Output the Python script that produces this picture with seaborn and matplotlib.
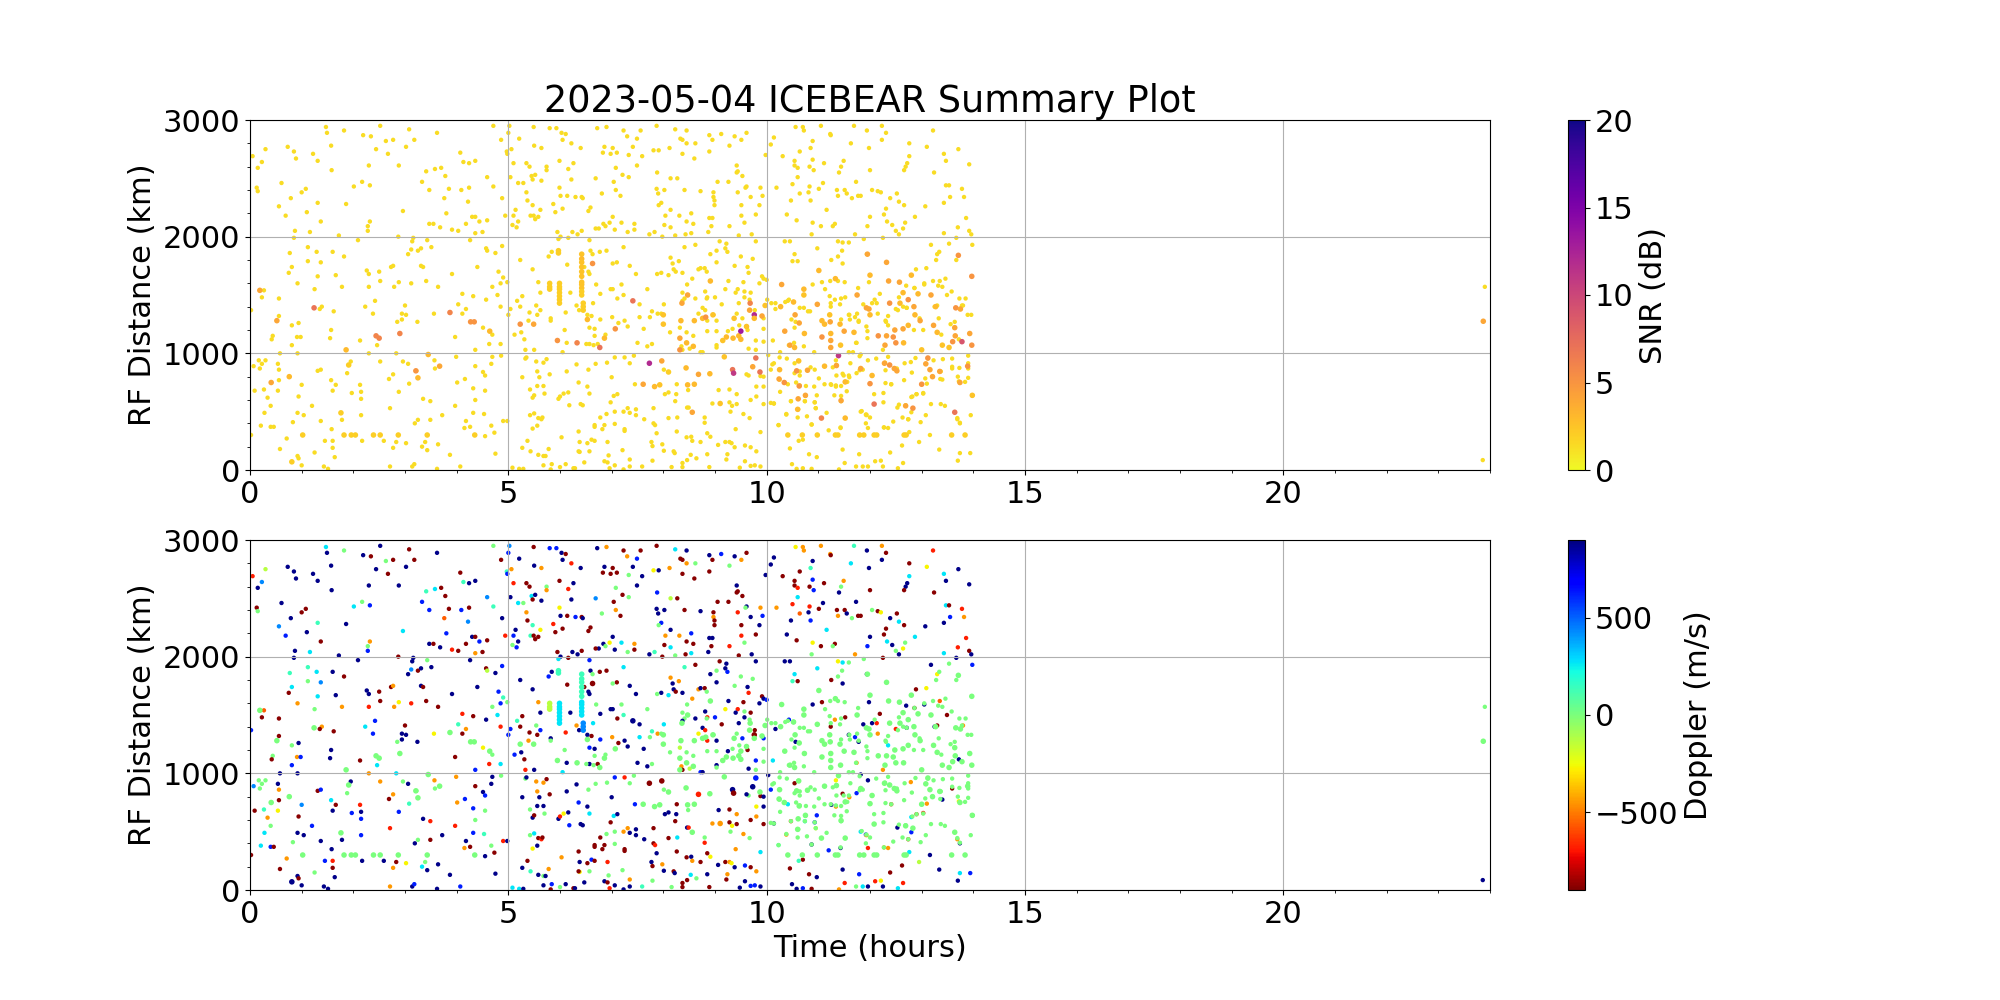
#!/usr/bin/env python3
"""ICEBEAR daily summary: SNR and Doppler of echoes against time and RF distance."""

import matplotlib
import matplotlib.pyplot as plt
import pandas as pd
import seaborn as sns
from matplotlib.cm import ScalarMappable
from matplotlib.colors import Normalize
from matplotlib.ticker import AutoMinorLocator

matplotlib.use("Agg")

# Doppler levels (m/s)
N, D = 880, -880
B, A, C, T, G = 620, 430, 270, 140, 0
L, Y, O, H, R = -130, -270, -450, -560, -680

WEAK_SNR = 1.4
TITLE = "2023-05-04 ICEBEAR Summary Plot"

# ─── Weak echoes, 0-5 h ─────────────────────────────────────────────────────
EARLY_TIME = [
    .05, .30, .23, .15, .13, .15, .61, .73, .85, .89, 1.22, 1.31, 1.47, 1.49, 1.82, 1.57, 1.58, 2.19, 2.34, 2.52,
    2.44, 2.63, 2.77, 2.67, 3.02, 3.08, 3.18, 2.88, 2.30, 3.62, 4.07, 4.13, 4.24, 4.36, 4.71, 5.0, 4.86, 4.97, 3.41, 3.58,
    3.70, 3.78, 3.33, 3.47, 3.85, 4.09, 4.24, 4.59, 4.71, 4.88, 2.01, 2.17, 2.32, 1.00, 1.08, .79, .56, .69, 1.10, 1.31,
    1.86, 1.37, .87, 1.16, 1.72, 2.28, 2.32, 2.28, 2.96, 3.47, 3.55, 3.68, 3.91, 4.03, 4.18, 4.30, 4.36, 4.44, 4.59, 4.36,
    4.50, 3.76, 3.80, 4.22, 4.94,
    .85, 1.12, 1.29, 1.60, .77, 1.82, 1.12, 1.37, .81, .75, 1.31, 1.66, .92, 1.25, 1.78, .23, .56, .27, .02, 1.39,
    1.35, 1.62, .56, .94, .81, .44, .42, .91, .98, .81, .58, .92, 1.57, 1.55, 2.13, 2.46, 2.30, 2.83, 2.26, 2.30,
    2.50, 2.52, 2.30, 2.42, 2.23, 2.38, 2.73, 2.77, 2.88, 2.79, 3.12, 3.41, 3.64, 3.00, 2.94, 3.02, 2.94, 2.85, 3.24, 3.56,
    3.06, 3.12, 3.25, 3.31, 3.14, 3.16, 2.87, 2.09, 3.43, 3.51, 3.31, 3.35, 3.91, 4.40, 4.57, 4.59, 4.75, 4.88, 4.26, 4.81,
    4.90, 4.85, 4.69, 4.79, 4.57, 4.32, 4.11, 4.03, 4.18, 4.11, 4.85, 5.00, 4.51, 4.69, 3.97, 4.63, 4.85, 4.36, 4.98,
    .07, .17, .23, .19, .30, .54, .56, .56, .54, .09, .27, .34, .40, .28, .21, .40, .46, .02, .71, .58,
    .92, .94, .81, 1.00, 1.43, 1.51, 1.64, 1.60, 1.25, 1.60, 1.45, 2.17, 2.59, 2.83, 3.02, 2.77, 3.33, 3.43, 3.64, 3.39,
    3.87, 4.75, 4.55, 4.73, 2.71, 3.14, 3.18, 3.62, 4.07, 1.58, 1.37, 1.04, .92, .83, 1.20, .94, 1.00, 1.31, 1.37, 1.57,
    1.66, 1.60, 1.88, 1.95, 1.97, 2.13, 2.15, 2.15, 2.15, 1.78, 2.52, 2.69, 2.77, 2.88, 2.71, 2.96, 3.06, 3.22, 3.08, 3.35,
    3.49, 3.57, 3.58, 3.99, 4.01, 4.16, 4.32, 4.55, 4.36, 3.97, 3.72, 4.32, 4.53, 3.49, 3.25, 3.19, 4.18, 4.26, 4.15, 4.67,
    4.90, 4.98, 4.36, 4.51, 4.55, 4.69, 4.67, 4.86,
]
EARLY_RANGE = [
    2690, 2750, 2640, 2590, 2420, 2390, 2460, 2770, 2730, 2670, 2710, 2650, 2940, 2890, 2910, 2780, 2570, 2870, 2860, 2950,
    2750, 2820, 2830, 2710, 2770, 2920, 2830, 2610, 2610, 2890, 2720, 2640, 2630, 2650, 2950, 2890, 2830, 2730, 2560, 2580,
    2590, 2520, 2470, 2400, 2410, 2400, 2420, 2510, 2430, 2330, 2430, 2470, 2440, 2380, 2410, 2330, 2260, 2180, 2210, 2290,
    2280, 2130, 2050, 2040, 2010, 2090, 2130, 2050, 2220, 2110, 2110, 2080, 2060, 2050, 2110, 2170, 2170, 2130, 2140, 2030,
    2040, 2330, 2200, 2300, 2180,
    1990, 1910, 1870, 1870, 1860, 1830, 1790, 1780, 1740, 1690, 1660, 1670, 1600, 1550, 1570, 1480, 1470, 1540, 1370, 1400,
    1380, 1360, 1320, 1260, 1240, 1150, 1120, 1140, 1140, 1070, 1000, 1000, 1200, 1130, 1110, 1070, 1000, 1000, 1710, 1680,
    1700, 1620, 1570, 1450, 1400, 1340, 1740, 1750, 1610, 1570, 1600, 1620, 1570, 1410, 1340, 1330, 1290, 1270, 1270, 1340,
    1850, 1890, 1880, 1900, 1960, 1990, 2000, 1970, 1970, 1910, 1750, 1740, 1680, 1740, 1900, 1880, 1860, 1920, 1970, 1700,
    1650, 1600, 1570, 1500, 1460, 1490, 1510, 1420, 1380, 1340, 1400, 1330, 1220, 1160, 1140, 1080, 1080, 1030, 1610,
    890, 940, 910, 870, 940, 910, 860, 770, 680, 680, 690, 620, 550, 490, 380, 370, 370, 300, 270, 180,
    120, 100, 70, 40, 30, 10, 110, 190, 150, 250, 250, 250, 250, 240, 230, 190, 200, 170, 220, 240,
    130, 140, 290, 320, 30, 30, 50, 10, 30, 350, 420, 470, 490, 410, 550, 630, 730, 850, 860, 770,
    730, 680, 830, 930, 660, 730, 670, 610, 470, 430, 930, 780, 820, 670, 530, 930, 910, 850, 740, 610,
    590, 940, 870, 970, 750, 780, 700, 680, 600, 550, 470, 490, 480, 430, 430, 400, 420, 370, 360, 380,
    420, 420, 890, 840, 810, 970, 910, 980,
]
EARLY_DOPPLER = [
    R, L, A, N, D, G, N, N, N, N, N, N, C, N, G, N, N, N, D, N,
    N, G, D, D, N, D, D, N, N, N, D, T, N, N, G, B, D, T, T, C,
    D, D, B, B, D, B, D, A, T, N, C, G, B, D, D, N, A, B, N, T,
    N, D, N, C, N, G, O, B, C, N, D, N, R, D, D, N, D, B, D, O,
    D, H, B, A, R,
    N, T, C, N, T, D, G, A, C, D, C, N, O, G, O, D, D, H, B, O,
    D, D, D, N, G, G, D, O, B, B, N, N, N, N, D, C, O, C, N, N,
    D, D, R, B, C, B, D, O, Y, O, R, D, D, D, N, N, N, G, N, Y,
    N, A, D, N, N, N, D, N, G, N, N, D, N, N, D, L, N, B, N, B,
    T, B, G, C, N, D, R, T, O, D, R, B, Y, G, D, R, C, B, G,
    A, G, G, G, G, N, O, D, Y, D, T, O, G, C, C, B, D, D, O, D,
    N, D, N, N, N, N, N, D, G, R, B, N, N, D, Y, O, C, N, N, G,
    N, N, N, D, O, N, B, N, B, N, N, N, N, G, B, D, A, D, B, C,
    D, N, G, N, B, R, N, B, B, N, O, D, O, B, R, G, N, G, T, N,
    R, O, G, O, O, B, B, G, G, R, N, B, T, D, G, N, N, D, O, G,
    R, N, D, N, B, N, N, G,
]

# ─── Weak echoes, 5-10 h ────────────────────────────────────────────────────
MID_TIME = [
    5.02, 5.21, 5.49, 5.80, 5.93, 6.03, 6.11, 6.05, 6.22, 6.40, 5.50, 5.64, 5.10, 5.06, 4.98, 5.35, 5.41, 5.99, 5.74, 5.74,
    6.26, 6.16, 5.04, 5.45, 5.52, 5.47, 5.64, 5.19, 5.29, 6.22, 5.99, 5.35, 5.37, 5.47, 5.62, 5.87, 5.91, 6.01, 6.14, 6.30,
    6.42, 6.44, 6.59, 6.55, 6.05, 5.14, 5.10, 5.19, 5.08, 5.16, 5.43, 5.49, 5.58, 5.52, 5.95, 6.01, 6.16, 6.24, 6.34, 6.42,
    6.69, 6.72, 6.90, 7.23, 7.30, 6.83, 6.86, 7.02, 6.98, 7.10, 7.33, 7.41, 7.49, 7.08, 7.21, 7.33, 7.04, 7.08, 7.17, 6.81,
    7.02, 7.19, 6.96, 7.06, 6.84, 6.75, 6.69, 6.88, 7.31, 7.44, 7.44, 7.49,
    7.56, 7.87, 7.81, 7.91, 7.59, 8.23, 8.45, 8.33, 8.37, 8.45, 8.62, 8.12, 8.37, 8.60, 8.89, 8.95, 9.12, 9.38, 9.28, 9.51,
    9.61, 8.89, 9.42, 9.42, 9.44, 9.53, 7.88, 8.14, 8.27, 7.87, 7.90, 8.02, 8.41, 8.72, 9.05, 9.26, 8.97, 8.97, 8.99, 8.99,
    9.44, 9.61, 9.59, 9.88, 9.69, 9.92, 9.86, 9.51, 7.96, 7.91, 8.14, 8.04, 8.31, 8.54, 8.45, 8.58, 8.89, 8.95, 8.93, 9.28,
    9.51, 9.79, 9.57, 8.02, 8.14, 7.73, 7.83, 7.98, 8.23, 8.43, 8.54, 8.87, 9.46, 9.71, 9.98,
    5.23, 5.47, 5.97, 5.84, 5.78, 6.14, 5.58, 5.62, 6.20, 5.27, 5.17, 5.23, 5.04, 5.41, 5.54, 5.56, 5.62, 5.82, 6.11, 6.32,
    6.37, 6.61, 6.53, 6.64, 6.78, 6.98, 7.02, 7.11, 7.23, 7.19, 7.10, 7.02, 7.35, 7.47, 7.23, 6.77, 6.90, 6.57, 6.59, 6.55,
    6.57, 6.47, 6.63, 6.70, 7.01, 7.13, 7.25, 7.31, 6.78, 6.67, 6.57, 6.88, 6.67, 6.57, 6.51, 6.65, 6.73, 7.50, 6.13, 6.05,
    5.12, 5.25, 5.39, 5.31, 5.50, 5.33, 6.09, 5.82, 7.54,
    8.41, 8.62, 9.09, 9.22, 9.20, 9.24, 8.91, 9.03, 9.79, 8.14, 8.18, 8.30, 8.20, 7.96, 7.88, 8.10, 8.37, 8.24, 8.56, 8.68,
    8.72, 8.80, 9.03, 9.38, 9.63, 9.65, 9.50, 9.73, 9.26, 9.55, 9.44, 9.69, 9.86, 9.91, 9.94, 10.0, 9.57, 8.81, 8.85, 9.00,
    9.20, 7.69, 8.62, 8.41, 8.37, 9.40, 9.57, 9.46, 9.67, 9.13, 7.54, 8.01, 7.78, 7.89, 7.96, 8.68, 8.76, 8.81, 9.77, 9.94,
    9.53, 9.03, 8.85, 7.62, 9.63, 9.25, 8.32, 9.79, 7.69, 8.35, 8.37, 8.51, 8.72, 8.76, 9.03, 9.65, 9.79,
    7.74, 8.13, 8.45, 8.58, 9.03, 9.03, 8.85, 8.97, 9.42, 9.34, 9.47, 9.61, 9.94, 9.94, 7.78, 8.84, 8.46, 8.37, 8.84,
    5.08, 5.21, 5.29, 5.27, 5.37, 5.43, 5.58, 5.68, 5.72, 5.78, 5.68, 5.84, 5.82, 6.00, 6.11, 6.26, 6.29, 6.47, 6.86, 6.92,
    7.06, 6.96, 7.23, 7.35, 7.35, 6.94, 7.21, 6.57, 6.38, 6.36, 6.03, 6.36, 6.38, 6.53, 6.61, 6.67, 6.92, 7.25, 7.25, 7.06,
    6.67, 6.67, 6.82, 6.78, 6.86, 6.90, 7.06, 7.23, 7.31, 7.35, 7.47, 7.47, 7.04, 6.98, 7.11, 5.27, 5.42, 5.47, 5.50, 5.68,
    5.56, 5.60, 5.56, 5.54, 5.68, 5.74, 5.33, 5.35, 5.80, 5.70, 5.97, 6.00, 6.07, 6.16, 6.18, 6.40, 6.44, 6.32, 6.13, 6.36,
    6.55, 6.53, 6.57, 6.69, 6.91, 7.00, 7.35, 7.43, 7.25, 7.06, 7.45, 5.50, 5.42, 5.58, 5.64, 5.66, 5.56, 5.47,
    8.01, 8.03, 8.10, 8.26, 8.23, 8.48, 8.25, 7.81, 7.63, 8.10, 8.27, 8.46, 8.49, 8.80, 8.80, 7.81, 7.84, 7.87, 7.77, 7.79,
    7.98, 8.01, 8.20, 8.22, 8.53, 8.37, 8.46, 8.64, 8.16, 8.37, 8.89, 7.79, 7.59, 8.26, 8.45, 8.54, 8.56, 8.72, 8.85, 8.91,
    9.06, 8.85, 9.20, 9.28, 9.32, 9.38, 9.24, 9.22, 9.58, 9.69, 9.80, 9.58, 9.69, 9.77, 9.88, 9.48, 9.88, 9.40, 8.95, 9.28,
    9.42, 9.33, 9.30, 9.55, 9.67, 9.07, 9.28, 9.42, 9.80, 9.94, 9.69, 9.94, 9.80, 9.65, 9.61, 9.88, 9.94,
]
MID_RANGE = [
    2950, 2840, 2940, 2930, 2930, 2890, 2880, 2830, 2800, 2760, 2780, 2760, 2630, 2750, 2710, 2630, 2600, 2650, 2600, 2570,
    2630, 2580, 2510, 2520, 2530, 2490, 2480, 2460, 2460, 2490, 2420, 2380, 2310, 2270, 2230, 2280, 2210, 2350, 2350, 2340,
    2340, 2330, 2250, 2220, 2240, 2230, 2180, 2130, 2100, 2080, 2180, 2180, 2170, 2150, 2040, 2000, 1990, 2040, 2020, 2050,
    2500, 2930, 2940, 2910, 2860, 2720, 2770, 2760, 2710, 2720, 2700, 2770, 2840, 2590, 2530, 2510, 2470, 2400, 2350, 2370,
    2170, 2120, 2120, 2060, 2110, 2070, 2070, 2090, 2040, 2060, 2110, 2610,
    2910, 2950, 2740, 2740, 2690, 2920, 2910, 2840, 2830, 2800, 2800, 2760, 2710, 2670, 2870, 2830, 2880, 2860, 2780, 2830,
    2890, 2730, 2610, 2550, 2560, 2520, 2550, 2500, 2500, 2410, 2370, 2400, 2400, 2390, 2470, 2470, 2380, 2340, 2310, 2270,
    2380, 2430, 2420, 2420, 2340, 2350, 2270, 2270, 2290, 2270, 2230, 2180, 2180, 2200, 2130, 2110, 2160, 2160, 2090, 2090,
    2180, 2190, 2120, 2100, 2080, 2020, 2040, 2000, 2010, 2020, 2030, 2040, 2010, 2020, 2700,
    1800, 1720, 1980, 1870, 1830, 1760, 1610, 1520, 1520, 1490, 1450, 1400, 1380, 1350, 1410, 1330, 1370, 1300, 1350, 1410,
    1370, 1320, 1330, 1430, 1510, 1550, 1550, 1470, 1500, 1590, 1780, 1770, 1750, 1680, 1910, 1870, 1880, 1970, 1880, 1700,
    1680, 1740, 1850, 1590, 1310, 1260, 1280, 1230, 1290, 1210, 1220, 1160, 1150, 1080, 1080, 1070, 1080, 1090, 1090, 1010,
    1160, 1180, 1280, 1120, 1030, 1030, 1200, 1280, 1310,
    1910, 1930, 1960, 1940, 1900, 1870, 1850, 1880, 1960, 1820, 1770, 1790, 1720, 1690, 1680, 1670, 1690, 1700, 1640, 1720,
    1730, 1730, 1780, 1750, 1740, 1690, 1830, 1810, 1620, 1610, 1550, 1520, 1600, 1660, 1640, 1630, 1530, 1530, 1480, 1480,
    1550, 1550, 1470, 1470, 1450, 1520, 1480, 1430, 1460, 1420, 1420, 1420, 1360, 1340, 1340, 1340, 1390, 1370, 1370, 1300,
    1300, 1280, 1280, 1210, 1200, 1190, 1220, 1110, 1060, 1060, 1030, 1040, 1010, 1010, 1070, 1040, 1030,
    1310, 1180, 1180, 1150, 1050, 1190, 1190, 1330, 1340, 1210, 1240, 1230, 1210, 1100, 1080, 1700, 1590, 1520, 1470,
    20, 10, 10, 190, 250, 160, 130, 120, 120, 180, 40, 50, 5, 25, 50, 15, 15, 65, 75, 65,
    40, 15, 5, 90, 30, 125, 170, 160, 155, 160, 280, 330, 240, 230, 260, 250, 240, 335, 350, 395,
    370, 385, 350, 450, 385, 480, 500, 500, 530, 490, 470, 520, 635, 580, 650, 795, 690, 620, 640, 720,
    720, 795, 845, 930, 920, 950, 955, 965, 820, 655, 610, 630, 655, 665, 555, 565, 555, 905, 845, 750,
    860, 715, 655, 910, 920, 795, 915, 980, 965, 965, 735, 485, 470, 445, 435, 450, 380, 355,
    860, 650, 665, 735, 590, 685, 650, 530, 435, 445, 450, 535, 535, 450, 405, 400, 385, 315, 240, 205,
    220, 165, 160, 145, 130, 60, 85, 100, 25, 25, 25, 80, 30, 330, 280, 285, 250, 240, 135, 285,
    215, 315, 240, 240, 230, 195, 135, 90, 210, 195, 160, 75, 35, 40, 30, 20, 325, 350, 570, 580,
    565, 550, 500, 480, 445, 685, 690, 650, 715, 715, 600, 565, 630, 810, 820, 805, 800,
]
MID_DOPPLER = [
    A, N, D, B, B, N, D, N, R, N, N, O, R, O, B, D, D, D, G, O,
    N, R, N, C, N, D, N, C, G, N, Y, O, D, T, Y, R, D, N, D, B,
    D, N, D, D, D, N, B, N, G, B, T, D, D, D, D, N, D, N, N, D,
    A, N, O, D, O, D, N, D, D, D, G, N, B, G, D, G, D, O, D, G,
    N, C, Y, N, N, N, D, G, G, D, O, N,
    D, D, Y, N, N, C, N, D, D, O, G, O, D, D, N, D, B, N, G, O,
    D, D, N, D, D, D, B, L, D, N, N, N, D, N, D, D, D, O, D, D,
    R, N, G, O, N, B, N, D, B, G, N, O, O, B, D, D, N, N, D, R,
    R, D, G, D, C, N, T, D, G, D, C, N, D, N, N,
    N, N, C, N, B, D, O, N, N, D, T, D, B, D, G, D, B, N, R, O,
    N, D, N, C, N, N, N, D, T, G, D, G, N, N, C, D, D, B, N, N,
    N, D, G, G, O, D, N, N, B, N, B, G, G, N, G, G, D, N, N, C,
    B, N, O, D, N, R, G, G, C,
    T, D, D, N, N, B, N, G, N, O, N, O, N, N, G, C, N, D, O, O,
    N, D, N, G, N, R, G, G, N, D, R, D, N, D, N, B, G, N, R, B,
    Y, G, N, G, N, N, N, N, G, D, N, C, T, O, G, Y, N, R, D, B,
    B, N, R, N, D, N, L, B, N, O, D, L, B, N, N, N, G,
    G, G, G, G, G, G, G, G, G, G, G, G, G, G, G, G, G, G, G,
    C, C, N, N, D, T, N, G, N, O, N, B, D, G, N, D, N, N, N, D,
    N, R, N, O, N, G, G, G, Y, D, O, D, N, D, B, D, R, D, D, G,
    D, D, D, D, D, G, G, O, O, N, N, N, C, D, N, N, G, N, D, N,
    N, N, O, O, O, D, G, N, D, G, N, R, Y, N, B, N, N, N, N, B,
    G, N, C, G, G, N, G, G, R, B, B, C, G, D, R, D, N, Y,
    G, N, N, D, D, G, N, D, N, D, C, N, R, G, R, D, R, N, N, D,
    O, N, D, N, C, D, D, G, G, D, D, G, T, D, D, N, O, D, N, Y,
    N, D, D, O, Y, N, O, D, B, D, O, N, B, B, N, N, C, O, O, D,
    D, Y, G, O, G, N, D, O, Y, N, D, D, O, G, N, D, N,
]

# ─── Weak echoes, 10-14 h and the lone ones near 24 h ───────────────────────
LATE_TIME = [
    10.56, 10.70, 10.72, 11.05, 11.23, 11.24, 11.69, 11.94, 12.23, 12.31, 12.23, 13.22, 12.76, 13.10, 13.71, 10.14, 10.08, 10.89, 10.85, 10.64,
    10.31, 11.63, 11.98, 10.54, 10.54, 10.60, 10.89, 10.83, 10.91, 11.11, 11.49, 11.44, 11.40, 12.00, 12.76, 13.43, 13.47, 12.72, 12.69, 12.66,
    13.24, 13.92, 10.60, 10.50, 10.83, 11.09, 11.01, 10.19, 10.81, 10.64, 11.36, 11.38, 11.51, 11.55, 11.65, 11.73, 11.77, 11.82, 12.04, 12.15,
    12.21, 12.52, 12.39, 12.56, 12.66, 13.47, 13.53, 13.78, 13.82, 13.55, 13.43, 13.07, 10.85, 11.16, 10.47, 10.39, 10.58, 12.00, 12.31, 12.27,
    12.33, 12.43, 12.56, 12.68, 12.64, 12.87, 13.86, 13.70, 13.92, 13.96, 13.43, 12.50, 11.95, 11.71, 11.32, 11.28, 11.05, 10.89, 10.87,
    10.35, 10.45, 10.54, 10.60, 10.50, 10.98, 11.38, 11.47, 11.59, 11.46, 11.38, 11.25, 11.47, 11.94, 11.88, 12.25, 13.67, 13.18, 13.53, 13.98,
    13.30, 13.34, 13.28, 13.67, 13.09, 12.89, 13.05, 12.70, 12.86, 13.35, 13.49, 13.25, 13.30, 13.80, 12.71, 12.50, 12.15, 12.13, 12.19, 11.87,
    12.04, 11.52, 11.32, 11.24, 10.89, 11.07, 11.98, 11.59, 11.71, 11.78, 10.56, 10.17, 10.43, 10.52, 10.12, 12.35, 13.72, 12.25, 11.74,
    10.03, 11.82, 11.96, 11.34, 10.08, 10.54, 11.47, 11.74, 11.60, 11.25, 11.34, 10.41, 12.41, 13.10, 13.40, 13.72, 13.59, 12.79, 10.97, 10.47,
    10.74, 10.93, 10.95, 10.14, 12.53, 12.80, 12.80, 12.90, 13.03, 13.98, 11.82, 11.92, 10.38, 12.74, 13.69, 13.74, 10.23, 10.87, 11.20, 11.43,
    11.93, 11.96, 12.27, 12.35, 12.76, 13.16, 10.70, 10.62, 12.95, 10.45, 10.82, 10.97, 11.47, 11.79, 12.39, 12.62, 13.34, 13.74, 13.94, 13.70,
    10.49, 10.58, 10.70, 10.87, 11.40, 11.51, 11.73, 11.86, 11.96, 12.10, 12.21, 12.25, 12.54, 12.64,
    23.90, 23.86,
]
LATE_RANGE = [
    2940, 2940, 2910, 2950, 2880, 2870, 2950, 2910, 2950, 2890, 2830, 2910, 2800, 2770, 2750, 2850, 2790, 2820, 2760, 2730,
    2690, 2800, 2760, 2650, 2610, 2590, 2660, 2600, 2570, 2630, 2650, 2600, 2550, 2570, 2690, 2710, 2650, 2630, 2600, 2570,
    2550, 2620, 2510, 2450, 2430, 2460, 2410, 2420, 2380, 2370, 2400, 2350, 2400, 2370, 2330, 2470, 2350, 2350, 2400, 2390,
    2380, 2370, 2330, 2300, 2270, 2440, 2440, 2410, 2340, 2340, 2290, 2260, 2310, 2230, 2310, 2190, 2140, 2170, 2240, 2190,
    2130, 2100, 2020, 2120, 2070, 2170, 2160, 2080, 2050, 2020, 2030, 2050, 2090, 2020, 2110, 2090, 2090, 2120, 2020,
    1960, 1960, 1850, 1790, 1790, 1900, 1960, 1950, 1950, 1880, 1830, 1800, 1770, 1850, 1980, 1990, 1990, 1930, 1940, 1930,
    1850, 1870, 1800, 1800, 1730, 1720, 1590, 1580, 1560, 1620, 1500, 1400, 1410, 1410, 1390, 1380, 1340, 1430, 1510, 1420,
    1430, 1480, 1460, 1400, 1590, 1610, 1610, 1330, 1310, 1270, 1270, 1380, 1460, 1440, 1110, 1240, 1120, 1030, 1090,
    985, 990, 940, 940, 860, 915, 825, 830, 795, 730, 715, 735, 735, 740, 775, 760, 870, 925, 640, 590,
    590, 580, 530, 570, 535, 495, 625, 650, 660, 640, 500, 475, 475, 435, 435, 400, 385, 390, 340, 360,
    470, 360, 365, 360, 325, 300, 260, 250, 240, 185, 135, 110, 175, 135, 150, 210, 175, 145, 145, 80,
    50, 10, 15, 10, 5, 60, 30, 30, 30, 75, 80, 30, 15, 60,
    1570, 85,
]
LATE_DOPPLER = [
    Y, O, O, O, O, D, T, N, O, D, N, R, D, Y, N, N, N, N, T, D,
    D, C, N, D, D, R, B, D, B, D, O, G, N, D, C, C, N, N, N, D,
    D, N, C, R, R, N, D, O, N, H, D, O, D, N, G, N, D, D, G, D,
    Y, D, N, C, D, C, D, R, O, B, N, N, B, C, N, N, D, N, D, D,
    C, N, N, G, Y, C, R, R, D, N, C, G, B, O, D, G, D, Y, G,
    N, N, C, D, T, C, Y, C, G, G, G, D, N, N, G, D, N, N, G, B,
    Y, G, G, G, Y, D, N, N, D, H, D, N, D, O, N, R, O, R, D, N,
    N, D, O, D, N, D, N, N, B, N, N, N, B, D, C, C, N, O, O,
    N, N, N, Y, B, D, D, B, O, N, O, C, R, O, N, Y, D, O, B, R,
    C, B, Y, N, N, B, C, R, R, N, C, B, O, R, O, N, T, N, B, N,
    O, R, O, O, C, N, D, T, L, D, D, N, N, B, D, D, N, C, B, N,
    N, N, B, D, O, R, G, C, N, R, Y, N, C, R,
    G, N,
]

# Green dots that fill the 10-14 h block, all at about zero Doppler
GREEN_TIME = [
    10.01, 10.09, 10.17, 10.36, 10.41, 10.64, 10.72, 10.80, 10.84, 11.22, 11.24, 11.44, 11.44, 11.60, 11.61, 11.75, 11.78, 11.93, 11.95, 11.95,
    11.73, 11.59, 11.67, 10.92, 10.72, 10.53, 10.43, 10.48, 10.54, 10.26, 11.42, 11.13, 11.23, 11.38, 11.51, 11.77, 12.09, 12.31, 12.56, 12.64,
    12.54, 12.71, 12.86, 13.05, 13.22, 13.32, 13.46, 13.40, 13.58, 13.73, 13.85, 13.78, 13.89, 13.96, 13.64, 13.56, 13.33, 13.38, 13.03, 12.85,
    12.96, 12.35, 12.30,
    10.11, 10.39, 10.25, 10.14, 10.61, 10.64, 10.54, 10.85, 10.93, 11.12, 11.28, 11.35, 11.62, 11.80, 12.12, 12.35, 12.52, 12.29, 12.38, 12.47,
    12.88, 13.12, 13.23, 13.41, 13.59, 13.90, 13.90, 13.90, 13.59, 13.73, 12.81, 12.67, 12.30, 12.04, 11.86, 11.80, 11.59, 11.49, 11.35, 11.01,
    10.25, 10.35, 10.57, 10.64, 10.64, 10.76, 10.92, 11.12, 11.24, 11.34, 11.44, 11.56, 11.52, 12.00, 12.30, 12.41, 12.66, 13.00, 13.07, 13.21,
    13.37, 13.36, 13.70, 13.90, 13.74, 13.84, 10.26, 10.08, 10.14, 10.47, 10.61, 10.75, 10.74, 10.93, 10.95, 11.44, 11.44, 11.55, 11.31, 11.16,
    11.52, 10.38, 10.23, 10.60, 10.78, 10.87, 11.43, 11.84, 11.93, 12.00, 12.26, 12.08, 12.26, 12.56, 12.69, 12.82, 12.90, 13.03, 13.18, 13.37,
    13.45, 13.08, 12.98, 12.74, 12.63, 12.45, 12.27, 11.92, 13.69, 13.74, 13.95, 13.98,
]
GREEN_RANGE = [
    1460, 1430, 1430, 1440, 1450, 1390, 1390, 1360, 1360, 1490, 1430, 1470, 1290, 1330, 1290, 1340, 1280, 1230, 1190, 1130,
    1090, 1010, 1010, 1010, 1060, 1090, 1070, 1290, 1220, 1010, 1420, 1550, 1620, 1620, 1610, 1560, 1460, 1270, 1480, 1400,
    1370, 1390, 1560, 1600, 1620, 1580, 1640, 1570, 1530, 1470, 1470, 1410, 1330, 1330, 1270, 1250, 1300, 1160, 1200, 1200,
    1300, 1320, 1280,
    905, 955, 965, 915, 935, 845, 830, 880, 860, 890, 880, 900, 915, 975, 955, 970, 870, 920, 900, 870,
    960, 955, 940, 950, 955, 980, 915, 870, 885, 875, 835, 915, 855, 810, 860, 855, 810, 810, 810, 785,
    775, 750, 750, 725, 810, 720, 715, 735, 735, 725, 720, 755, 755, 740, 745, 735, 770, 735, 785, 800,
    845, 780, 800, 790, 750, 755, 670, 575, 570, 590, 520, 635, 590, 580, 530, 635, 590, 675, 640, 490,
    445, 480, 385, 450, 460, 390, 365, 505, 475, 450, 580, 650, 660, 560, 555, 630, 650, 655, 565, 565,
    550, 470, 410, 435, 450, 415, 365, 400, 445, 405, 470, 640,
]

# ─── Stronger echoes, drawn a little larger ─────────────────────────────────
STRONG_TIME = [
    .19, .52, 1.24, 2.44, 2.50, 2.90, 1.86, 3.87, 4.27, 4.34, 4.64,
    1.02, 1.82, 1.96, 2.04, 2.39, 2.52, 2.87, 3.43, 4.35, 1.76, .41, .76, 1.91, 3.21, 3.25, 3.67, 3.45, .81,
    5.80, 5.80, 5.80, 5.99, 5.99, 5.99, 5.99, 5.99, 5.99, 5.99, 6.42, 6.42, 6.42, 6.42, 6.42, 6.42, 6.42, 6.42, 6.42, 6.42,
    6.42, 6.45, 6.45, 6.45, 5.97, 5.97,
    5.23, 5.49, 5.95, 6.33, 6.77, 6.86, 6.53, 6.63, 7.07, 7.41,
    8.91, 8.47, 8.36, 8.34, 8.60, 8.76, 8.82, 8.96, 8.00, 8.00, 8.32, 8.45, 8.58, 8.32, 9.15, 9.22, 9.35, 9.46, 9.50, 9.61,
    9.68, 9.67, 9.76, 9.76, 9.91, 9.50, 9.37, 9.97,
    7.73, 7.61, 7.83, 7.93, 7.97, 8.10, 8.44, 8.68, 8.90, 8.47, 8.60, 8.56, 9.18, 9.34, 9.36, 9.73, 9.79, 9.87, 9.10,
    10.29, 10.72, 10.72, 10.55, 10.52, 10.27, 10.98, 11.01, 11.33, 11.22, 11.23, 11.07, 11.12, 10.63, 10.35, 10.73, 11.24, 11.07, 11.24, 11.50,
    11.69, 11.42, 10.45, 10.54, 11.24, 11.43, 11.75, 11.93, 12.00, 11.98, 11.95, 12.32, 12.00, 12.36, 12.57, 12.64, 12.74, 12.38, 12.58, 12.85,
    12.93, 12.80, 13.97, 13.71, 13.18, 13.27, 13.66, 13.75, 12.87, 12.97, 12.74, 12.64, 12.48, 12.16, 12.32, 12.45, 12.50, 12.65, 12.29, 13.23,
    13.30, 13.64, 13.65, 13.60, 13.78, 13.97, 13.93, 13.40, 13.53, 13.00, 11.39,
    10.24, 10.34, 10.61, 10.75, 10.63, 10.60, 11.06, 11.52, 11.44, 11.52, 12.00, 12.04, 12.08, 12.38, 12.28, 12.47, 12.52, 12.83, 12.69, 13.00,
    13.08, 13.12, 13.16, 13.21, 13.35, 13.64, 13.74, 13.89, 13.98, 11.12, 11.35, 11.82, 10.58, 10.79, 10.25, 10.62,
    10.41, 10.69, 10.98, 11.33, 11.38, 11.80, 11.88, 12.08, 12.13, 12.66, 12.70, 13.58, 13.84,
    23.87,
]
STRONG_RANGE = [
    1540, 1280, 1390, 1150, 1130, 1170, 1030, 1350, 1270, 1270, 1190,
    300, 300, 300, 300, 300, 300, 300, 300, 300, 490, 750, 800, 900, 850, 790, 890, 990, 70,
    1600, 1570, 1550, 1600, 1570, 1550, 1520, 1490, 1460, 1430, 1850, 1810, 1780, 1740, 1700, 1660, 1610, 1590, 1560, 1530,
    1500, 1430, 1400, 1370, 1880, 1860,
    1250, 1250, 1110, 1090, 1050, 1130, 1290, 1770, 1210, 1450,
    1620, 1500, 1430, 1280, 1280, 1300, 1310, 1330, 1330, 1250, 1130, 1090, 1060, 1030, 1110, 1140, 1130, 1150, 1120, 1230,
    1430, 1370, 1330, 1300, 1320, 1190, 1300, 1410,
    915, 735, 715, 730, 935, 840, 875, 820, 825, 730, 735, 495, 970, 860, 830, 885, 960, 840, 570,
    1590, 1550, 1500, 1330, 1440, 1400, 1420, 1710, 1640, 1330, 1270, 1280, 1250, 1260, 1190, 1170, 1170, 1140, 1110, 1190,
    1180, 1250, 1070, 1050, 1050, 1070, 1500, 1390, 1330, 1380, 1850, 1780, 1670, 1620, 1610, 1520, 1460, 1430, 1430, 1400,
    1510, 1670, 1660, 1840, 1500, 1400, 1390, 1380, 1330, 1280, 1240, 1210, 1200, 1150, 1150, 1140, 1090, 1090, 1070, 1240,
    1180, 1220, 1150, 1100, 1100, 1070, 1170, 1070, 1050, 1030, 980,
    780, 750, 610, 640, 720, 520, 445, 445, 595, 755, 740, 810, 565, 900, 915, 870, 850, 530, 550, 735,
    910, 960, 860, 800, 845, 495, 750, 890, 640, 890, 895, 870, 850, 855, 860, 935,
    300, 300, 300, 300, 300, 300, 300, 300, 300, 300, 300, 300, 300,
    1275,
]
STRONG_SNR = [
    4, 4, 7, 6, 6, 6, 3, 6, 5, 5, 3,
    2, 2, 2, 2, 2, 2, 2, 2, 2, 2, 4, 3, 2, 5, 3, 4, 3, 2,
    2, 2, 2, 2, 2, 2, 2, 2, 2, 2, 2.5, 3, 2.5, 2.5, 2.5, 2.5, 2.5, 2.5, 2.5, 2,
    2, 2, 2, 2, 2, 2,
    5, 4, 5, 6, 7, 3, 3, 5, 5, 7,
    3, 4, 4, 3, 3, 3, 5, 2.5, 2.5, 2.5, 4, 3, 3, 5, 2.5, 3, 3, 3, 3, 2.5,
    6, 4, 12, 3, 4, 13, 2.5, 2.5,
    12, 4, 3, 2.5, 4, 2, 3, 4, 3, 3, 3, 4, 2.5, 7, 11, 4, 7, 7, 2.5,
    4, 3, 2.5, 4, 3, 3, 4, 3, 3, 2.5, 4, 3, 3, 4, 4, 3, 3, 5, 4, 4,
    3, 3, 4, 3, 4, 2.5, 4, 4, 3, 4, 4, 4, 3, 4, 4, 3, 5, 5, 3, 4,
    3, 3, 5, 5, 4, 3, 5, 4, 3, 4, 3, 4, 4, 5, 4, 5, 5, 3, 4, 4,
    3, 4, 4, 5, 9, 5, 4, 2.5, 2.5, 2.5, 11,
    4, 5, 4, 4, 5, 3, 6, 3, 4, 3, 5, 3, 7, 5, 4, 4, 4, 5, 4, 5,
    4, 5, 4, 4, 4, 7, 4, 5, 2.5, 3, 4, 4, 5, 4, 3, 2.5,
    2, 2, 2, 2, 2, 2, 2, 2, 2, 2, 2, 2, 2,
    4,
]
STRONG_DOPPLER = [
    G, G, G, G, G, G, G, G, G, G, G,
    G, G, G, G, G, G, G, G, G, G, G, G, G, G, G, G, G, N,
    L, L, L, C, C, C, C, C, C, C, T, T, T, T, T, T, C, C, C, C,
    C, A, A, A, T, T,
    G, G, G, G, G, G, G, D, G, N,
    G, G, G, G, G, G, G, G, G, G, G, G, G, G, G, G, G, G, G, G,
    G, G, D, G, G, G, G, G,
    D, G, G, G, D, G, G, R, G, G, G, G, G, N, D, N, B, G, O,
    G, G, G, G, G, G, G, G, G, G, G, G, G, G, G, G, G, G, G, G,
    G, G, G, G, G, G, G, G, G, G, G, G, G, G, G, G, G, G, G, G,
    G, G, G, G, G, G, G, G, G, G, G, G, G, G, G, G, G, G, G, G,
    G, G, G, G, G, G, G, G, G, G, G,
    G, G, G, G, G, G, G, G, G, G, G, G, G, G, G, G, G, G, G, G,
    G, G, G, G, G, G, G, G, G, G, G, G, G, G, G, G,
    G, G, G, G, G, G, G, G, G, G, G, G, G,
    G,
]


def frame(time, distance, doppler):
    n = min(len(time), len(distance), len(doppler))
    return pd.DataFrame({"time": time[:n], "range": distance[:n], "doppler": doppler[:n]})


weak = pd.concat([
    frame(EARLY_TIME, EARLY_RANGE, EARLY_DOPPLER),
    frame(MID_TIME, MID_RANGE, MID_DOPPLER),
    frame(LATE_TIME, LATE_RANGE, LATE_DOPPLER),
    frame(GREEN_TIME, GREEN_RANGE, [G] * len(GREEN_TIME)),
], ignore_index=True)
weak["snr"] = WEAK_SNR

strong = frame(STRONG_TIME, STRONG_RANGE, STRONG_DOPPLER)
strong["snr"] = STRONG_SNR[:len(strong)]

fig, axes = plt.subplots(2, 1, figsize=(20, 10))
panels = [
    (axes[0], "snr", "plasma_r", (0, 20), "SNR (dB)", [0, 5, 10, 15, 20]),
    (axes[1], "doppler", "jet_r", (-900, 900), "Doppler (m/s)", [-500, 0, 500]),
]

for ax, column, cmap, limits, label, ticks in panels:
    sns.scatterplot(data=weak, x="time", y="range", hue=column, hue_norm=limits,
                    palette=cmap, s=10, linewidth=0, legend=False, ax=ax)
    sns.scatterplot(data=strong, x="time", y="range", hue=column, hue_norm=limits,
                    palette=cmap, s=16, linewidth=0, legend=False, ax=ax)
    ax.set_xlim(0, 24)
    ax.set_ylim(0, 3000)
    ax.set_xticks([0, 5, 10, 15, 20])
    ax.set_yticks([0, 1000, 2000, 3000])
    ax.xaxis.set_minor_locator(AutoMinorLocator(5))
    ax.yaxis.set_minor_locator(AutoMinorLocator(5))
    ax.grid(True, which="major")
    ax.tick_params(axis="both", which="major", labelsize=22)
    ax.set_xlabel("")
    ax.set_ylabel("RF Distance (km)", fontsize=22)

    sm = ScalarMappable(norm=Normalize(*limits), cmap=cmap)
    cbar = fig.colorbar(sm, ax=ax)
    cbar.set_ticks(ticks)
    cbar.ax.tick_params(labelsize=22)
    cbar.set_label(label, fontsize=22)

axes[0].set_title(TITLE, fontsize=26.4)
axes[1].set_xlabel("Time (hours)", fontsize=22)

fig.savefig("out.png", dpi=100)
plt.close(fig)
